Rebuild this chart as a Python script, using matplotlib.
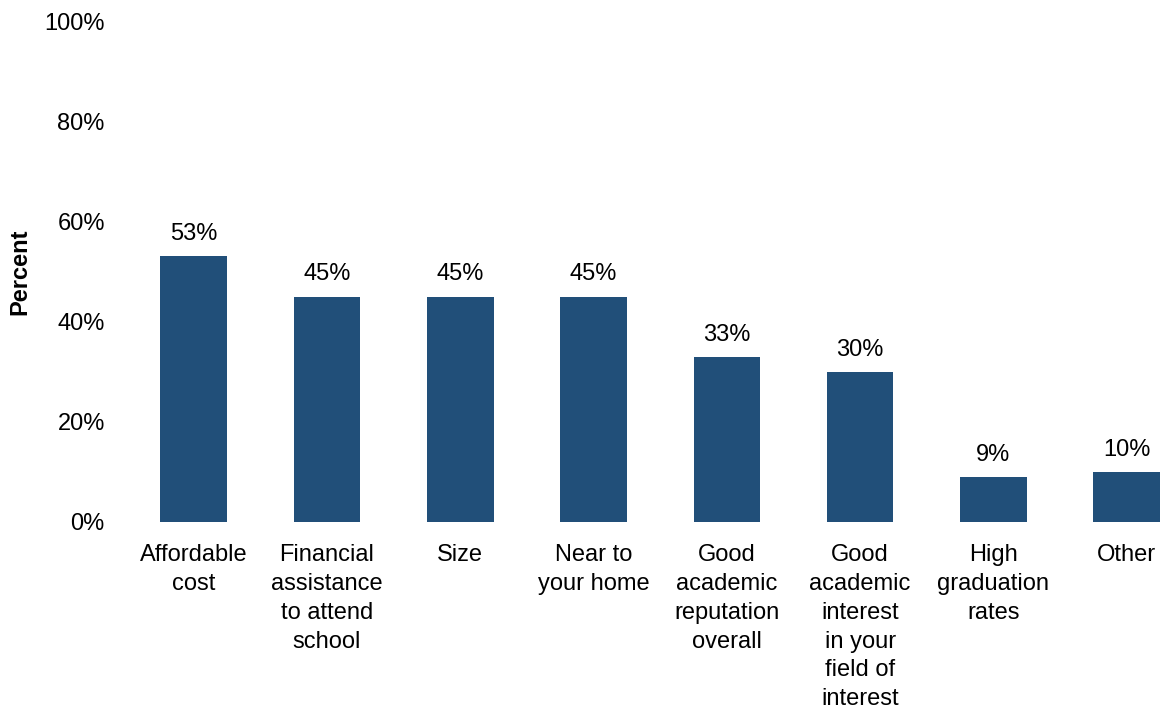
import matplotlib.pyplot as plt
from matplotlib.ticker import FuncFormatter

categories = [
    "Affordable\ncost",
    "Financial\nassistance\nto attend\nschool",
    "Size",
    "Near to\nyour home",
    "Good\nacademic\nreputation\noverall",
    "Good\nacademic\ninterest\nin your\nfield of\ninterest",
    "High\ngraduation\nrates",
    "Other",
]
values = [53, 45, 45, 45, 33, 30, 9, 10]
y_ticks = [0, 20, 40, 60, 80, 100]

BAR_COLOR = "#214f79"
plt.rcParams["font.family"] = ["Liberation Sans", "DejaVu Sans"]

fig = plt.figure(figsize=(11.62, 7.09), dpi=100)
ax = fig.add_axes([127 / 1162, 187 / 709, 1034 / 1162, 501 / 709])

x = list(range(len(categories)))
bars = ax.bar(x, values, width=0.5, color=BAR_COLOR)

# value labels above each bar
for bar, v in zip(bars, values):
    ax.annotate(f"{v}%", (bar.get_x() + bar.get_width() / 2, v),
                xytext=(0, 8), textcoords="offset points",
                ha="center", va="bottom", fontsize=17, color="black")

ax.set_xlim(-0.5, 7.257)
ax.set_ylim(0, 100)
ax.set_yticks(y_ticks)
ax.yaxis.set_major_formatter(FuncFormatter(lambda v, _: f"{v:.0f}%"))
ax.set_xticks(x)
ax.set_xticklabels(categories, fontsize=17, linespacing=1.4)
ax.tick_params(axis="y", labelsize=17, length=0, pad=16)
ax.tick_params(axis="x", length=0, pad=16)
ax.set_ylabel("Percent", fontsize=17, fontweight="bold", labelpad=9)
for side in ax.spines.values():
    side.set_visible(False)

fig.savefig("out.png", dpi=100)
